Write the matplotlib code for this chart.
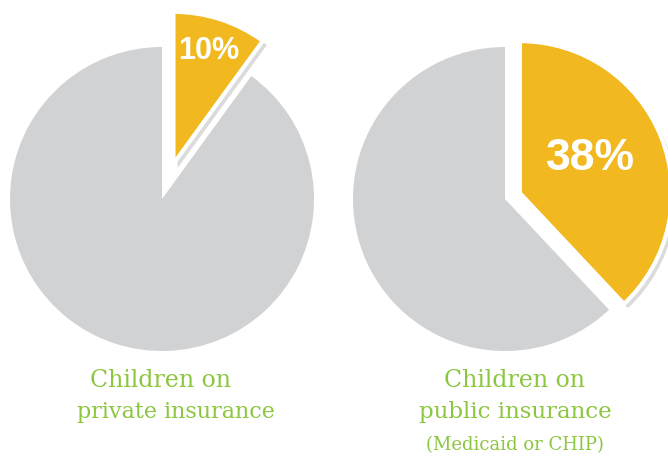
import matplotlib
matplotlib.use("Agg")
import matplotlib.pyplot as plt
import matplotlib.patheffects as pe

# data
private_share = [10, 90]
public_share = [38, 62]
private_label = "10%"
public_label = "38%"
private_lines = ["Children on", "private insurance"]
public_lines = ["Children on", "public insurance"]
public_note = "(Medicaid or CHIP)"

YELLOW = "#f1b91f"
GRAY = "#d1d2d4"
GREEN = "#8cc63f"
H = 460

fig = plt.figure(figsize=(6.68, 4.6), dpi=100)
ax = fig.add_axes([0, 0, 1, 1])


def draw_pie(values, cx, cy, r, explode):
    # explode is in data units (pixels here)
    wedges, _ = ax.pie(values, colors=[YELLOW, GRAY], startangle=90,
                       counterclock=False, explode=[explode, 0],
                       center=(cx, H - cy), radius=r, frame=True)
    hi = wedges[0]
    hi.set_edgecolor("white")
    hi.set_linewidth(3)
    hi.set_zorder(3)
    hi.set_path_effects([pe.SimplePatchShadow(offset=(3, -3), shadow_rgbFace="#999999", alpha=0.35),
                         pe.Normal()])
    wedges[1].set_linewidth(0)
    wedges[1].set_zorder(2)
    return wedges


draw_pie(private_share, 162, 200, 152, 37)
draw_pie(public_share, 505, 200, 152, 16)

ax.text(209, H - 51, private_label, color="white", fontsize=22, fontweight="bold",
        family="Liberation Sans", ha="center", va="center", zorder=5)
ax.text(590, H - 159, public_label, color="white", fontsize=32, fontweight="bold",
        family="Liberation Sans", ha="center", va="center", zorder=5)

# captions
ax.text(160, H - 381, private_lines[0], color=GREEN, fontsize=17, family="DejaVu Serif",
        ha="center", va="center")
ax.text(176, H - 412, private_lines[1], color=GREEN, fontsize=16, family="DejaVu Serif",
        ha="center", va="center")
ax.text(515, H - 381, public_lines[0], color=GREEN, fontsize=17, family="DejaVu Serif",
        ha="center", va="center")
ax.text(515, H - 412, public_lines[1], color=GREEN, fontsize=16.5, family="DejaVu Serif",
        ha="center", va="center")
ax.text(515, H - 445, public_note, color=GREEN, fontsize=13, family="DejaVu Serif",
        ha="center", va="center")

ax.set_xlim(0, 668)
ax.set_ylim(0, H)
ax.set_aspect("equal")
ax.axis("off")

fig.savefig("out.png", dpi=100)
